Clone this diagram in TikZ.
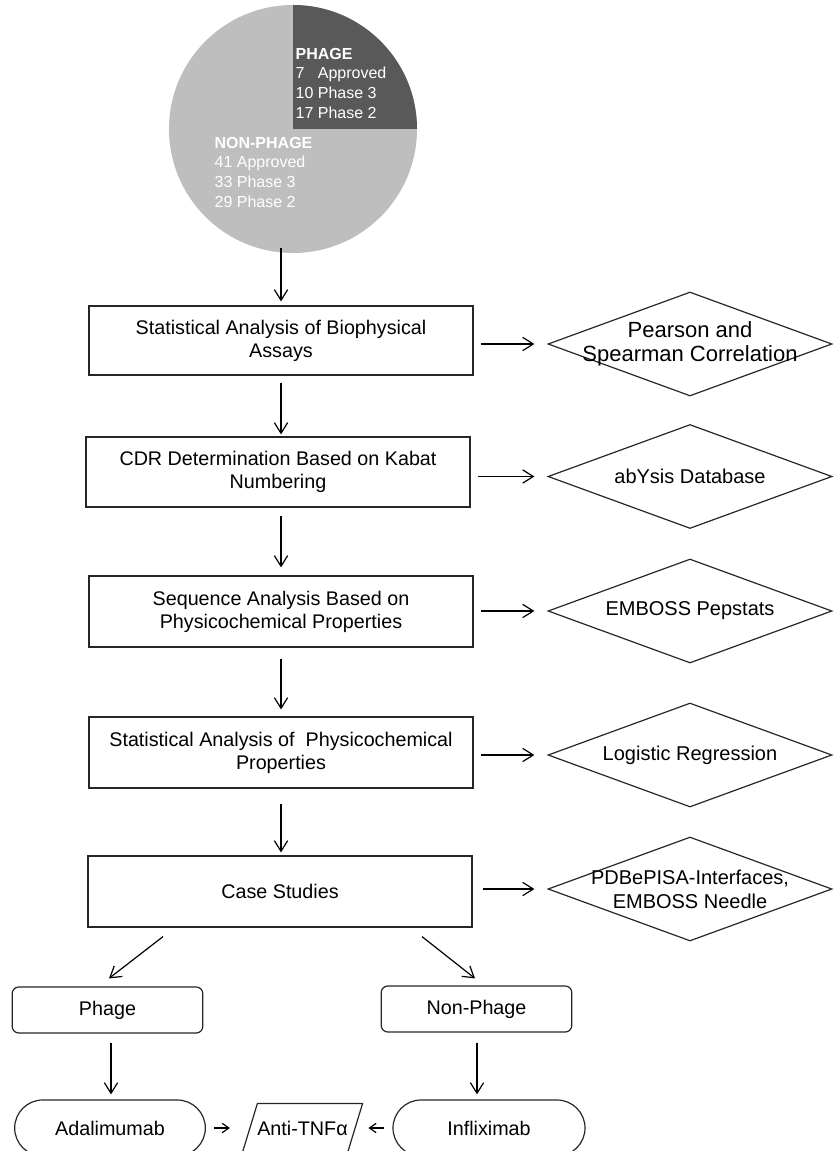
\documentclass[tikz,border=0pt]{standalone}
\usepackage{fontspec}
\setmainfont{Liberation Sans}
\usetikzlibrary{shapes.geometric,arrows.meta}
\definecolor{pielight}{RGB}{190,190,190}
\definecolor{piedark}{RGB}{89,89,89}

\begin{document}
\begin{tikzpicture}[x=0.75pt,y=-0.75pt,line width=0.9pt,->,>={Straight Barb[length=8pt,width=10pt]}]
        \tikzstyle{stepbox}=[rectangle,draw=black!85,minimum width=288pt,minimum height=52pt,inner sep=0pt,align=center,font=\fontsize{14.8}{17.25}\selectfont]
        \tikzstyle{tooltext}=[align=center,font=\fontsize{15}{18}\selectfont]
        \tikzstyle{tool}=[diamond,draw=black!85,minimum width=213pt,minimum height=78pt,inner sep=0pt]
        \tikzstyle{group}=[rectangle,rounded corners=5pt,draw=black!85,minimum width=143pt,minimum height=34.5pt,font=\fontsize{14.8}{17.25}\selectfont]
        \tikzstyle{drug}=[rectangle,rounded corners=21pt,draw=black!85,minimum width=143pt,minimum height=42pt,font=\fontsize{14.8}{17.25}\selectfont]
        \tikzstyle{pietext}=[anchor=north west,inner sep=0pt,align=left,text=white,font=\fontsize{12}{14.75}\selectfont]
        \tikzstyle{small}=[>={Straight Barb[length=5pt,width=7pt]}]
        \useasboundingbox (0,0) rectangle (833,1151);
        \coordinate (spine) at (281,0);

        % pie chart
        \node [circle,fill=pielight,minimum size=186pt,inner sep=0pt,outer sep=0pt] (pie) at (293,129) {};
        \fill [piedark] (pie.center) -- (pie.east) arc [start angle=0,end angle=90,radius=93pt] -- cycle;
        \node [pietext] (phagetxt) at (295,47.5) {\textbf{PHAGE}\\7\phantom{0} Approved\\10 Phase 3\\17 Phase 2};
        \node [pietext] (nonphagetxt) at (214,136.5) {\textbf{NON-PHAGE}\\41 Approved\\33 Phase 3\\29 Phase 2};

        % main steps
        \node [stepbox,minimum height=51.75pt] (b1) at (281,340.5) {Statistical Analysis of Biophysical\\Assays};
        \node [stepbox,minimum height=52.5pt] (b2) at (278,472) {CDR Determination Based on Kabat\\Numbering};
        \node [stepbox,minimum height=53.25pt] (b3) at (281,611.5) {Sequence Analysis Based on\\Physicochemical Properties};
        \node [stepbox,minimum height=53.25pt] (b4) at (281,752.5) {Statistical Analysis of~~Physicochemical\\Properties};
        \node [stepbox,minimum height=53.25pt] (b5) at (280,891.5) {Case Studies};

        % tools
        \node [tool,label={[tooltext,font=\fontsize{16.5}{18}\selectfont]center:Pearson and\\Spearman Correlation}] (d1) at (690,344) {};
        \node [tool,label={[tooltext]center:abYsis Database}] (d2) at (690,476.5) {};
        \node [tool,label={[tooltext]center:EMBOSS Pepstats}] (d3) at (690,611) {};
        \node [tool,label={[tooltext]center:Logistic Regression}] (d4) at (690,755) {};
        \node [tool,label={[tooltext]center:PDBePISA-Interfaces,\\EMBOSS Needle}] (d5) at (690,889) {};

        % case studies
        \node [group] (phage) at (107.5,1010) {Phage};
        \node [group] (nonphage) at (476.5,1009) {Non-Phage};
        \node [drug] (ada) at (110,1128) {Adalimumab};
        \node [drug,minimum width=144pt] (inf) at (489,1128) {Infliximab};
        \node [rectangle,minimum width=78pt,minimum height=36pt,inner sep=0pt,font=\fontsize{14.8}{17.25}\selectfont] (anti) at (302.5,1128) {Anti-TNFα};
        \draw [-,draw=black!85] ([shift={(7.5,0)}]anti.north west) -- ([shift={(7.5,0)}]anti.north east)
          -- ([shift={(-7.5,0)}]anti.south east) -- ([shift={(-7.5,0)}]anti.south west) -- cycle;

        \path [draw,shorten <=-3.75pt,shorten >=3pt] (pie.south -| spine) -- (b1.north -| spine);
        \path [draw,shorten <=5.25pt,shorten >=1.5pt] (b1.south -| spine) -- (b2.north -| spine);
        \path [draw,shorten <=6pt,shorten >=6pt] (b2.south -| spine) -- (b3.north -| spine);
        \path [draw,shorten <=8.25pt,shorten >=5.25pt] (b3.south -| spine) -- (b4.north -| spine);
        \path [draw,shorten <=11.25pt,shorten >=2.25pt] (b4.south -| spine) -- (b5.north -| spine);

        \path [draw,shorten <=5.25pt,shorten >=9.75pt] (d1.west -| b1.east) -- (d1.west);
        \path [draw,shorten <=5.25pt,shorten >=9.75pt] (d2.west -| b2.east) -- (d2.west);
        \path [draw,shorten <=5.25pt,shorten >=9.75pt] (d3.west -| b3.east) -- (d3.west);
        \path [draw,shorten <=5.25pt,shorten >=9.75pt] (d4.west -| b4.east) -- (d4.west);
        \path [draw,shorten <=7.5pt,shorten >=9.75pt] (d5.west -| b5.east) -- (d5.west);

        \path [draw] ([shift={(-117,9)}]b5.south) -- ([shift={(1.5,-8)}]phage.north);
        \path [draw] ([shift={(142,9)}]b5.south) -- ([shift={(-1.5,-7)}]nonphage.north);
        \path [draw] ([shift={(3.5,9)}]phage.south) -- ([shift={(1,-5)}]ada.north);
        \path [draw] ([shift={(0.5,10)}]nonphage.south) -- ([shift={(-12,-5)}]inf.north);
        \path [draw,small,shorten <=6pt,shorten >=15pt] (ada.east) -- (anti.west);
        \path [draw,small,shorten <=6pt,shorten >=10pt] (inf.west) -- (anti.east);
\end{tikzpicture}
\end{document}
